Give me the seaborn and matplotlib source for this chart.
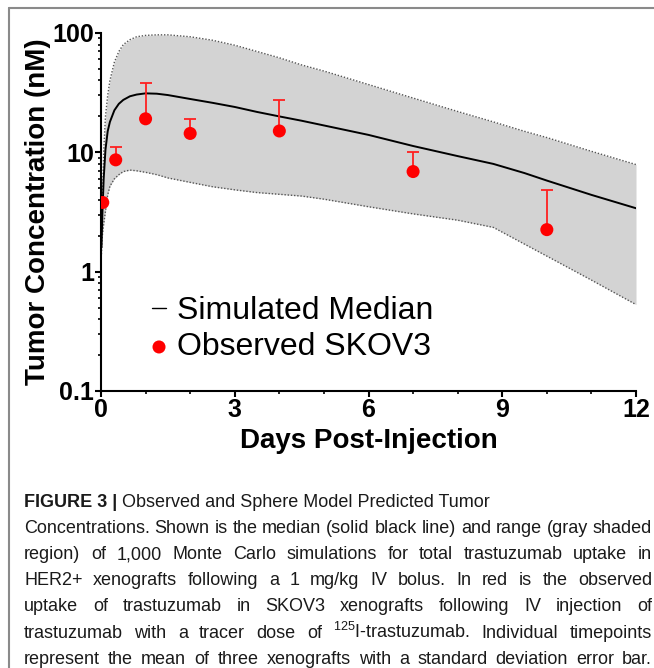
import numpy as np
import pandas as pd
import matplotlib
matplotlib.use("Agg")
import matplotlib.pyplot as plt
import seaborn as sns
from matplotlib.lines import Line2D

# ---------------- data ----------------
t_sim = [0.01, 0.03, 0.06, 0.1, 0.15, 0.2, 0.3, 0.4, 0.5, 0.65, 0.8, 1.0, 1.25,
         1.5, 2.0, 2.5, 3.0, 3.5, 4.0, 4.5, 5.0, 6.0, 7.0, 8.0, 8.8, 9.5, 10.0,
         11.0, 12.0]
sim_median = [1.6, 3.0, 6.0, 10.5, 15.0, 18.0, 22.5, 25.5, 27.5, 29.5, 30.5,
              31.2, 31.0, 30.2, 28.0, 26.0, 24.0, 21.8, 20.0, 18.4, 16.8, 14.0,
              11.3, 9.3, 8.0, 6.7, 5.8, 4.4, 3.4]
sim_upper = [1.8, 4.0, 10.0, 20.0, 30.0, 40.0, 57.0, 70.0, 80.0, 88.0, 93.0,
             95.5, 96.5, 96.5, 93.0, 87.0, 79.0, 70.0, 62.0, 54.0, 48.0, 37.0,
             28.5, 22.0, 18.0, 15.0, 13.3, 10.2, 7.9]
sim_lower = [1.4, 2.0, 2.5, 3.2, 4.4, 5.2, 6.0, 6.5, 6.9, 7.1, 7.0, 6.8, 6.5,
             6.1, 5.6, 5.15, 4.85, 4.6, 4.45, 4.3, 4.05, 3.5, 3.05, 2.7, 2.35,
             1.7, 1.35, 0.85, 0.53]

t_obs = [0.04, 0.33, 1.0, 2.0, 4.0, 7.0, 10.0]
obs_mean = [3.8, 8.65, 19.1, 14.4, 15.1, 6.9, 2.25]
obs_upper = [3.8, 11.0, 37.9, 19.1, 27.5, 10.0, 4.85]

x_ticks = [0, 3, 6, 9, 12]
y_ticks = [0.1, 1, 10, 100]
y_ticklabels = ["0.1", "1", "10", "100"]

caption_bold = "FIGURE 3 |"
caption_lines = [
    " Observed and Sphere Model Predicted Tumor",
    "Concentrations. Shown is the median (solid black line) and range (gray shaded",
    "region) of 1,000 Monte Carlo simulations for total trastuzumab uptake in",
    "HER2+ xenografts following a 1 mg/kg IV bolus. In red is the observed",
    "uptake of trastuzumab in SKOV3 xenografts following IV injection of",
    "trastuzumab with a tracer dose of $^{125}$I-trastuzumab. Individual timepoints",
    "represent the mean of three xenografts with a standard deviation error bar.",
]

# ---------------- style ----------------
sns.set_style("ticks")
plt.rcParams['font.family'] = ['Liberation Sans', 'DejaVu Sans']
plt.rcParams['mathtext.fontset'] = 'custom'
plt.rcParams['mathtext.rm'] = 'Liberation Sans'
plt.rcParams['text.color'] = 'black'
plt.rcParams['axes.labelcolor'] = 'black'

W, H = 654, 668
fig = plt.figure(figsize=(W / 100, H / 100), dpi=100)
ax = fig.add_axes([101 / W, 1 - 391 / H, (636 - 101) / W, (391 - 33) / H])

sim_df = pd.DataFrame({"t": t_sim, "median": sim_median,
                       "upper": sim_upper, "lower": sim_lower})
obs_df = pd.DataFrame({"t": t_obs, "mean": obs_mean, "upper": obs_upper})

# range band
ax.fill_between(sim_df["t"], sim_df["lower"], sim_df["upper"],
                color="#d3d3d3", lw=0, zorder=1)
for col in ["upper", "lower"]:
    ax.plot(sim_df["t"], sim_df[col], color="#555555", lw=1.0,
            ls=(0, (1, 1.3)), zorder=2)

# median
sns.lineplot(data=sim_df, x="t", y="median", color="black", lw=1.4,
             label="Simulated Median", ax=ax, zorder=3)

# error bars (upper only)
err_up = obs_df["upper"] - obs_df["mean"]
ax.errorbar(obs_df["t"], obs_df["mean"], yerr=[np.zeros(len(err_up)), err_up],
            fmt="none", ecolor="#ff2020", elinewidth=1.3, capsize=4.3,
            capthick=1.3, zorder=4)
sns.scatterplot(data=obs_df, x="t", y="mean", color="#ff0000", s=88,
                edgecolor="none", label="Observed SKOV3", ax=ax, zorder=5)

ax.set_yscale("log")
ax.set_ylim(0.1, 100)
ax.set_xlim(0, 12)
ax.set_xticks(x_ticks)
ax.set_xticklabels([str(v) for v in x_ticks])
ax.set_xticks(np.arange(0, 13, 1), minor=True)
ax.set_yticks(y_ticks)
ax.set_yticklabels(y_ticklabels)

for s in ["top", "right"]:
    ax.spines[s].set_visible(False)
for s in ["left", "bottom"]:
    ax.spines[s].set_linewidth(1.5)
    ax.spines[s].set_color("black")

ax.tick_params(axis="both", which="major", direction="out", length=4,
               width=1.5, labelsize=18, pad=1, colors="black")
ax.tick_params(axis="both", which="minor", direction="out", length=2.5,
               width=1.2, colors="black")
for lab in ax.get_xticklabels() + ax.get_yticklabels():
    lab.set_fontweight("bold")

ax.set_xlabel("Days Post-Injection", fontsize=20, fontweight="bold",
              labelpad=4, color="black")
ax.set_ylabel("Tumor Concentration (nM)", fontsize=20, fontweight="bold",
              labelpad=1, color="black")

leg = ax.legend(loc="lower left", bbox_to_anchor=(0.095, 0.08),
                frameon=False, fontsize=23, handlelength=0.45,
                handletextpad=0.35, borderpad=0, borderaxespad=0,
                labelspacing=0.2, markerscale=1.0)
for txt in leg.get_texts():
    txt.set_color("black")
for h in leg.legend_handles:
    if isinstance(h, Line2D):
        h.set_linewidth(1.0)

# ---------------- frame ----------------
fig.add_artist(Line2D([9 / W, 1.0], [1 - 8 / H, 1 - 8 / H],
                      color="#8a8a8a", lw=1.5, transform=fig.transFigure))
fig.add_artist(Line2D([9 / W, 9 / W], [1 - 8 / H, 0.0],
                      color="#8a8a8a", lw=1.5, transform=fig.transFigure))

# ---------------- caption (justified) ----------------
cap_color = "#1a1a1a"
cap_size = 13
x_left, x_right = 24, 652
base0 = 507
dy = 26.1
renderer = fig.canvas.get_renderer()

t0 = fig.text(x_left / W, 1 - base0 / H, caption_bold, fontsize=cap_size,
              fontweight="bold", color=cap_color, va="baseline", ha="left")
ax.annotate(caption_lines[0], xy=(1, 0), xycoords=t0, fontsize=cap_size,
            color=cap_color, va="bottom", ha="left", annotation_clip=False)

for i, line in enumerate(caption_lines[1:], start=1):
    yb = 1 - (base0 + i * dy) / H
    words = line.split(" ")
    arts = [fig.text(0, yb, w, fontsize=cap_size, color=cap_color,
                     va="baseline", ha="left") for w in words]
    widths = [a.get_window_extent(renderer).width for a in arts]
    gap = (x_right - x_left - sum(widths)) / (len(words) - 1)
    x = x_left
    for a, wd in zip(arts, widths):
        a.set_x(x / W)
        x += wd + gap

fig.savefig("out.png", dpi=100)
